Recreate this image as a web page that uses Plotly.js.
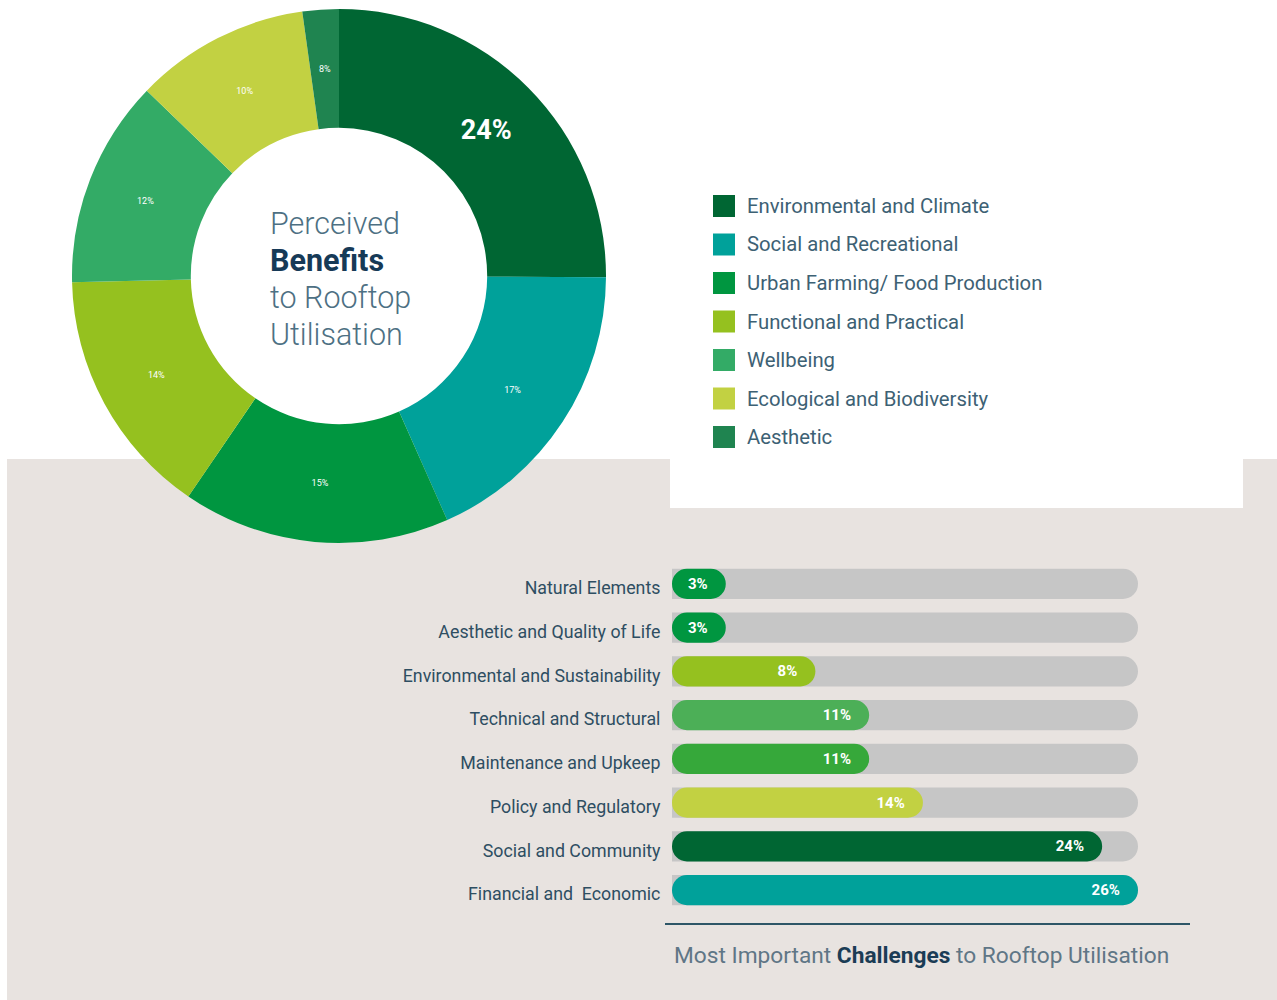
<!DOCTYPE html>
<html>
<head>
<meta charset="utf-8">
<script src="https://cdn.plot.ly/plotly-3.0.1.min.js"></script>
<style>
html,body{margin:0;padding:0;background:#ffffff;}
#chart{width:1277px;height:1000px;}
</style>
</head>
<body>
<div id="chart"></div>
<script>
// ---------- DATA ----------
const benefitCategories = [
  "Environmental and Climate",
  "Social and Recreational",
  "Urban Farming/ Food Production",
  "Functional and Practical",
  "Wellbeing",
  "Ecological and Biodiversity",
  "Aesthetic"
];
// printed labels on the donut
const benefitLabels = ["24%", "17%", "15%", "14%", "12%", "10%", "8%"];
const benefitShares = [25.1, 18.3, 16.2, 15.1, 12.6, 10.6, 2.2];
const benefitColors = ["#006633", "#00a19a", "#009640", "#95c11f", "#33ab66", "#c2d142", "#1f8450"];

const challengeCategories = [
  "Natural Elements",
  "Aesthetic and Quality of Life",
  "Environmental and Sustainability",
  "Technical and Structural",
  "Maintenance and Upkeep",
  "Policy and Regulatory",
  "Social and Community",
  "Financial and  Economic"
];
const challengeValues = [3, 3, 8, 11, 11, 14, 24, 26];
const challengeColors = ["#009640", "#009640", "#95c11f", "#4caf57", "#36a83a", "#c2d142", "#006633", "#00a19a"];

const centerTitleLines = ["Perceived", "<b>Benefits</b>", "to Rooftop", "Utilisation"];

// ---------- HELPERS ----------
const W = 1277, H = 1000;
const px = x => x / W;
const py = y => 1 - y / H;

const maxV = Math.max(...challengeValues);
const trackVals = challengeCategories.map(() => maxV);
const BAR_W = 0.69;
const RAD = 15;
const NB = "\u00a0";

// ---------- TRACES ----------
const pieX = [72, 606], pieY = [9, 543];
const pie = {
  type: "pie",
  labels: benefitCategories,
  values: benefitShares,
  text: benefitLabels,
  textinfo: "text",
  texttemplate: benefitLabels.map((t, i) => i === 0 ? "<b>%{text}</b>" : "%{text}"),
  textposition: benefitLabels.map((t, i) => i === benefitLabels.length - 1 ? "none" : "inside"),
  insidetextorientation: "horizontal",
  textfont: {
    family: "Roboto, sans-serif",
    color: "#ffffff",
    size: benefitLabels.map((t, i) => i === 0 ? 27 : 9)
  },
  marker: {colors: benefitColors, line: {width: 0}},
  sort: false,
  direction: "clockwise",
  rotation: 0,
  hole: 0.555,
  showlegend: false,
  hoverinfo: "skip",
  domain: {x: [px(pieX[0]), px(pieX[1])], y: [py(pieY[1]), py(pieY[0])]}
};

const trackBar = {
  type: "bar", orientation: "h",
  y: challengeCategories, x: trackVals,
  width: BAR_W,
  marker: {color: "#c6c6c6", cornerradius: RAD, line: {width: 0}},
  showlegend: false, hoverinfo: "skip"
};
const valueBar = {
  type: "bar", orientation: "h",
  y: challengeCategories, x: challengeValues,
  base: challengeValues.map(() => 0),
  width: BAR_W,
  marker: {color: challengeColors, cornerradius: RAD, line: {width: 0}},
  text: challengeValues.map(v => v + "%" + NB + NB + NB),
  textposition: "inside",
  insidetextanchor: "end",
  constraintext: "none",
  textfont: {family: "Roboto, sans-serif", size: 15, color: "#ffffff", weight: 700},
  showlegend: false, hoverinfo: "skip"
};

// ---------- SHAPES & ANNOTATIONS ----------
const shapes = [
  {type: "rect", xref: "paper", yref: "paper", x0: px(7), x1: 1, y0: 0, y1: py(459),
   fillcolor: "#e8e3e0", line: {width: 0}, layer: "below"},
  {type: "rect", xref: "paper", yref: "paper", x0: px(670), x1: px(1243), y0: py(508), y1: 1,
   fillcolor: "#ffffff", line: {width: 0}, layer: "below"},
  {type: "line", xref: "paper", yref: "paper", x0: px(665), x1: px(1190), y0: py(924), y1: py(924),
   line: {color: "#2d5667", width: 2}}
];

const annotations = [
  {xref: "paper", yref: "paper", x: px(672), y: py(955), xanchor: "left", yanchor: "middle",
   showarrow: false,
   text: "Most Important <b style='color:#1b3c55'>Challenges</b> to Rooftop Utilisation",
   font: {family: "Roboto, sans-serif", size: 22.7, color: "#5f7686"}}
];

// centre title of the donut, one line per annotation
centerTitleLines.forEach((t, i) => {
  annotations.push({xref: "paper", yref: "paper", x: px(268), y: py(224 + i * 36.7),
    xanchor: "left", yanchor: "middle", align: "left", showarrow: false,
    text: i === 1 ? t.replace("<b>", "<b style='color:#163a57'>") : t,
    font: {family: "Roboto, sans-serif", size: 30.5, color: "#4d7083", weight: 300}});
});

// label for the thin last slice, placed at the middle of its ring sector
(function () {
  const total = benefitShares.reduce((a, b) => a + b, 0);
  const i = benefitShares.length - 1;
  const before = benefitShares.slice(0, i).reduce((a, b) => a + b, 0);
  const mid = (before + benefitShares[i] / 2) / total * 2 * Math.PI;
  const cx = (pieX[0] + pieX[1]) / 2, cy = (pieY[0] + pieY[1]) / 2;
  const R = (pieX[1] - pieX[0]) / 2, rMid = R * (1 + 0.555) / 2;
  annotations.push({xref: "paper", yref: "paper",
    x: px(cx + rMid * Math.sin(mid)), y: py(cy - rMid * Math.cos(mid)),
    xanchor: "center", yanchor: "middle", showarrow: false, text: benefitLabels[i],
    font: {family: "Roboto, sans-serif", size: 9, color: "#ffffff"}});
})();

const legTop = 206, legStep = 38.5;
benefitCategories.forEach((c, i) => {
  const yc = legTop + i * legStep;
  shapes.push({type: "rect", xref: "paper", yref: "paper",
    x0: px(713), x1: px(735), y0: py(yc + 11), y1: py(yc - 11),
    fillcolor: benefitColors[i], line: {width: 0}});
  annotations.push({xref: "paper", yref: "paper", x: px(745), y: py(yc), xanchor: "left", yanchor: "middle",
    showarrow: false, text: c,
    font: {family: "Roboto, sans-serif", size: 20.3, color: "#3d6174"}});
});

// ---------- LAYOUT ----------
const layout = {
  width: W, height: H,
  margin: {l: 0, r: 0, t: 0, b: 0},
  paper_bgcolor: "#ffffff",
  plot_bgcolor: "rgba(0,0,0,0)",
  barmode: "overlay",
  showlegend: false,
  xaxis: {domain: [px(672), px(1138)], range: [0, maxV], visible: false, fixedrange: true},
  yaxis: {
    domain: [py(912), py(562)], type: "category", range: [7.5, -0.5],
    showgrid: false, zeroline: false, showline: false,
    ticks: "outside", ticklen: 7, tickcolor: "rgba(0,0,0,0)",
    ticklabelshift: -4,
    tickfont: {family: "Roboto, sans-serif", size: 17.8, color: "#2e4e62"},
    fixedrange: true
  },
  shapes: shapes,
  annotations: annotations
};

Plotly.newPlot("chart", [pie, trackBar, valueBar], layout, {staticPlot: true, displayModeBar: false});
</script>
</body>
</html>
